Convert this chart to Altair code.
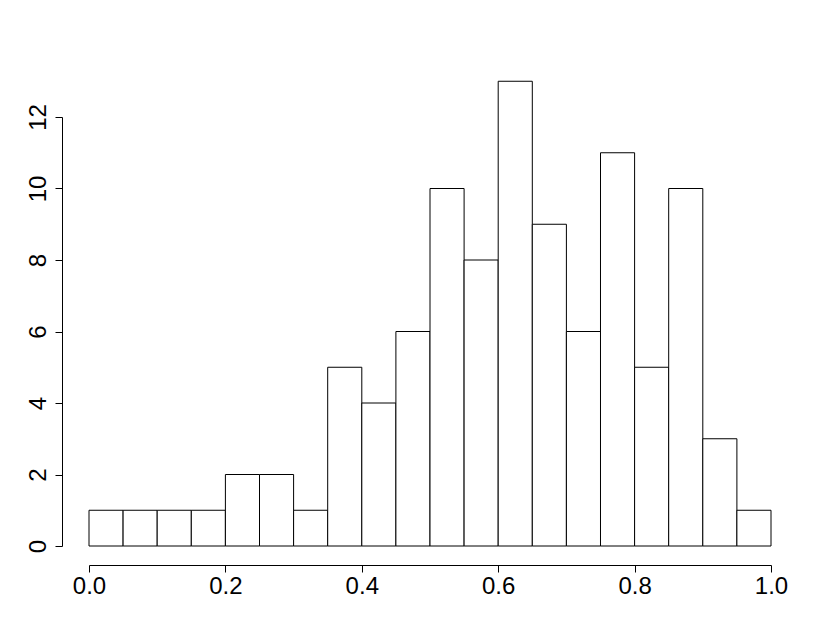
import altair as alt
import pandas as pd

bin_starts = [0.00, 0.05, 0.10, 0.15, 0.20, 0.25, 0.30, 0.35, 0.40, 0.45,
              0.50, 0.55, 0.60, 0.65, 0.70, 0.75, 0.80, 0.85, 0.90, 0.95]
bin_width = 0.05
counts = [1, 1, 1, 1, 2, 2, 1, 5, 4, 6, 10, 8, 13, 9, 6, 11, 5, 10, 3, 1]
x_ticks = [0.0, 0.2, 0.4, 0.6, 0.8, 1.0]
y_ticks = [0, 2, 4, 6, 8, 10, 12]

df = pd.DataFrame({
    "start": bin_starts,
    "end": [round(s + bin_width, 2) for s in bin_starts],
    "count": counts,
    "zero": [0] * len(counts),
})

FONT = "Liberation Sans"
FS = 24

chart = alt.Chart(df).mark_rect(
    fill="white", stroke="black", strokeWidth=1
).encode(
    x=alt.X("start:Q",
            scale=alt.Scale(domain=[0, 1], nice=False, zero=False),
            axis=alt.Axis(values=x_ticks, format=".1f", title=None, grid=False,
                          offset=19, tickSize=7, labelPadding=2,
                          labelFontSize=FS, labelFont=FONT, labelColor="black",
                          domainColor="black", tickColor="black",
                          labelFlush=False, labelOverlap=False)),
    x2="end:Q",
    y=alt.Y("zero:Q",
            scale=alt.Scale(domain=[0, 12], nice=False),
            axis=alt.Axis(values=y_ticks, title=None, grid=False,
                          offset=27, tickSize=7, labelPadding=10,
                          labelAngle=270, labelAlign="center", labelBaseline="alphabetic",
                          labelFontSize=FS, labelFont=FONT, labelColor="black",
                          domainColor="black", tickColor="black",
                          labelFlush=False, labelOverlap=False)),
    y2="count:Q",
).properties(
    width=682,
    height=429,
    autosize=alt.AutoSizeParams(type="none"),
    padding={"left": 81, "top": 109, "right": 43, "bottom": 80},
).configure(
    background="white",
    view=alt.ViewConfig(stroke=None),
)

chart.save("out.html", embed_options={"renderer": "svg", "actions": False})
